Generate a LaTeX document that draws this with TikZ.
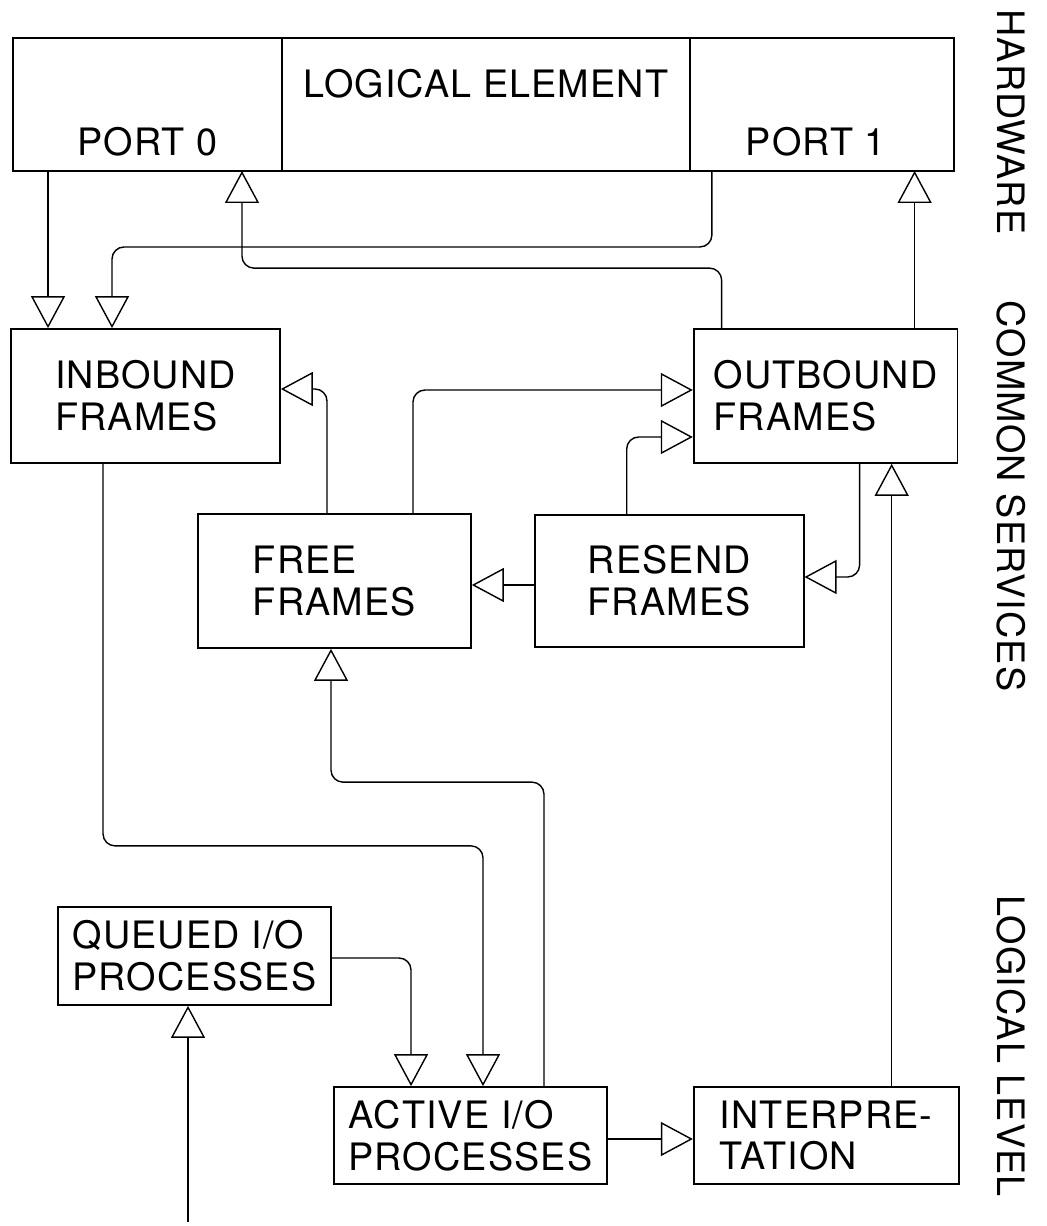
\documentclass[tikz,border=0pt]{standalone}
\usepackage{fontspec}
\setsansfont{TeX Gyre Heros}[LetterSpace=3]
\usetikzlibrary{positioning, arrows.meta}

\begin{document}
\begin{tikzpicture}[
    x=0.02cm, y=-0.02cm,
    % Plain boxes with thin black borders
    unitbox/.style={
        draw=black,
        line width=1pt,
        align=left,
        font=\sffamily\fontsize{21.5}{23.8}\selectfont,
        inner sep=0pt,
        rectangle
    },
    % Sections of the hardware strip (shared borders, so no outer sep)
    hwbox/.style={
        draw=black,
        line width=1pt,
        rectangle,
        inner sep=0pt,
        outer sep=0pt,
        minimum height=2.66cm
    },
    % Loose text inside the strip
    lettering/.style={
        font=\sffamily\fontsize{21.5}{23.8}\selectfont,
        inner sep=0pt
    },
    % Layer names running down the right side
    layer/.style={
        lettering,
        rotate=-90
    },
    % Connectors with long open heads
    flow/.style={
        -{Triangle[open, length=0.64cm, width=0.68cm]},
        draw=black,
        line width=0.8pt,
        rounded corners=0.24cm
    }
]
\useasboundingbox (0,0) rectangle (1046,1226);

% --- HARDWARE: logical element with its two ports ---
\node[hwbox, minimum width=5.38cm] (port0) at (147.5,104.5) {};
\node[hwbox, minimum width=8.16cm, right=0pt of port0] (element) {};
\node[hwbox, minimum width=5.28cm, right=0pt of element] (port1) {};

\node[lettering, above=0.29cm of port0.south] (port0text) {PORT 0};
\node[lettering, below=0.61cm of element.north] (elementtext) {LOGICAL ELEMENT};
\node[lettering, above=0.29cm of port1.south, xshift=-0.12cm] (port1text) {PORT 1};

% --- COMMON SERVICES: frame queues ---
\node[unitbox, minimum width=5.38cm, minimum height=2.68cm] (inbound) at (145.5,396) {INBOUND\\FRAMES};
\node[unitbox, minimum width=5.28cm, minimum height=2.68cm, right=8.24cm of inbound] (outbound) {OUTBOUND\\FRAMES};

\node[unitbox, minimum width=5.46cm, minimum height=2.68cm] (free) at (334.5,581) {FREE\\FRAMES};
\node[unitbox, minimum width=5.38cm, minimum height=2.64cm, right=1.24cm of free] (resend) {RESEND\\FRAMES};

% --- LOGICAL LEVEL: processes ---
\node[unitbox, minimum width=5.46cm, minimum height=1.96cm] (queued) at (194.5,956) {QUEUED I/O\\PROCESSES};
\node[unitbox, minimum width=5.46cm, minimum height=1.94cm] (active) at (470.5,1135.5) {ACTIVE I/O\\PROCESSES};
\node[unitbox, minimum width=5.3cm, minimum height=1.94cm, right=1.7cm of active] (interp) {INTERPRE-\\TATION};

% --- Layer names ---
\node[layer] (hardware) at (1011,122) {HARDWARE};
\node[layer] (common) at (1011,496) {COMMON SERVICES};
\node[layer] (logical) at (1011,1046) {LOGICAL LEVEL};

% Ports down into the inbound queue
\draw[flow] ([xshift=-1.99cm]port0.south) -- ([xshift=-1.99cm]port0.south |- inbound.north);
\draw[flow] ([xshift=-2.2cm]port1.south) -- ++(0,76) -| ([xshift=-0.67cm]inbound.north);

% Outbound queue up to the ports
\draw[flow] ([xshift=-2.08cm]outbound.north) -- ++(0,-60) -| ([xshift=1.89cm]port0.south);
\draw[flow] ([xshift=1.78cm]outbound.north) -- ([xshift=1.78cm]outbound.north |- port1.south);

% Traffic between the frame queues
\draw[flow] ([xshift=-0.15cm]free.north) |- ([yshift=0.14cm]inbound.east);
\draw[flow] ([xshift=1.57cm]free.north) |- ([yshift=0.12cm]outbound.west);
\draw[flow] ([xshift=-0.85cm]resend.north) |- ([yshift=-0.82cm]outbound.west);
\draw[flow] ([xshift=0.68cm]outbound.south) |- ([yshift=0.08cm]resend.east);
\draw[flow] ([yshift=-0.08cm]resend.west) -- ([yshift=-0.08cm]free.east);

% Processes and the queues
\draw[flow] ([xshift=-0.85cm]inbound.south) -- ++(0,382) -| ([xshift=0.25cm]active.north);
\draw[flow] ([xshift=1.47cm]active.north) -- ++(0,-304) -| ([xshift=-0.07cm]free.south);
\draw[flow] ([yshift=-0.04cm]queued.east) -| ([xshift=-1.19cm]active.north);

\coordinate (feed) at (188,1222);
\draw[flow] (feed) -- (feed |- queued.south);

\draw[flow] ([yshift=-0.07cm]active.east) -- ([yshift=-0.07cm]interp.west);
\draw[flow] ([xshift=1.31cm]interp.north) -- ([xshift=1.31cm]interp.north |- outbound.south);

\end{tikzpicture}
\end{document}
